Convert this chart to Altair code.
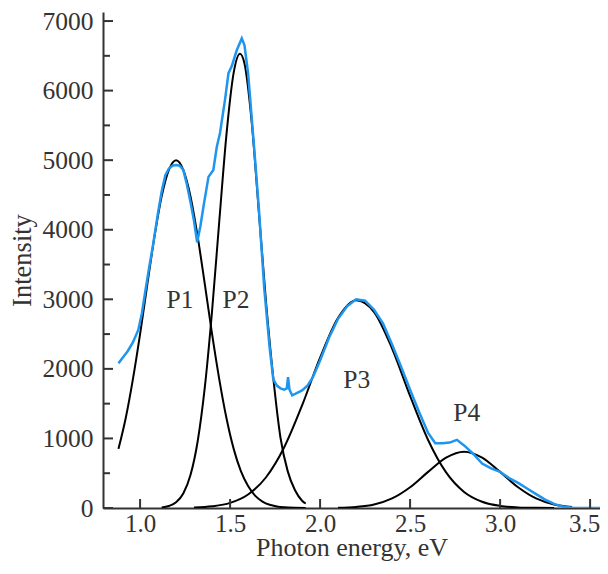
import altair as alt
import pandas as pd

# ---- measured spectrum (blue) ----
spec_E = [0.88, 0.90, 0.93, 0.96, 0.99, 1.01, 1.03, 1.05, 1.07, 1.10, 1.12, 1.14, 1.16, 1.18,
          1.20, 1.22, 1.24, 1.26, 1.28, 1.30, 1.317, 1.335, 1.352, 1.38, 1.407, 1.426, 1.444,
          1.472, 1.491, 1.509, 1.537, 1.565, 1.58, 1.60, 1.63, 1.66, 1.69, 1.72, 1.74, 1.76,
          1.78, 1.80, 1.815, 1.822, 1.83, 1.845, 1.87, 1.90, 1.93, 1.96, 2.00, 2.05, 2.10,
          2.15, 2.20, 2.25, 2.30, 2.35, 2.40, 2.45, 2.50, 2.55, 2.60, 2.64, 2.68, 2.72, 2.76,
          2.80, 2.85, 2.90, 2.95, 3.00, 3.05, 3.10, 3.15, 3.20, 3.25, 3.30, 3.35, 3.40, 3.50, 3.60]
spec_I = [2080, 2150, 2250, 2380, 2560, 2800, 3130, 3450, 3750, 4250, 4550, 4780, 4880, 4920,
          4930, 4920, 4860, 4650, 4400, 4120, 3820, 4050, 4330, 4760, 4860, 5190, 5390,
          5870, 6250, 6350, 6580, 6750, 6650, 6250, 5300, 4300, 3150, 2300, 1850, 1760,
          1720, 1700, 1720, 1880, 1700, 1620, 1650, 1690, 1760, 1880, 2120, 2450, 2720,
          2900, 3000, 2980, 2850, 2650, 2350, 2030, 1700, 1380, 1080, 930, 930, 940, 980,
          900, 780, 640, 570, 520, 430, 360, 280, 200, 120, 60, 20, 5, 0, 0]

# ---- fitted peaks (black) ----
p1_E = [0.88, 0.92, 0.96, 1.00, 1.04, 1.08, 1.12, 1.16, 1.20, 1.24, 1.28, 1.32, 1.36, 1.40,
        1.44, 1.48, 1.52, 1.56, 1.60, 1.64, 1.68, 1.72, 1.76, 1.80, 1.86, 1.92]
p1_I = [850, 1290, 1850, 2500, 3210, 3900, 4480, 4860, 5000, 4860, 4480, 3900, 3210, 2500,
        1850, 1290, 850, 530, 315, 175, 93, 46, 22, 10, 3, 1]

p2_E = [1.12, 1.16, 1.20, 1.24, 1.28, 1.32, 1.36, 1.40, 1.44, 1.48, 1.52, 1.555, 1.58, 1.62,
        1.66, 1.70, 1.74, 1.78, 1.82, 1.86, 1.90, 1.92]
p2_I = [9, 29, 82, 208, 473, 960, 1744, 2836, 4125, 5372, 6258, 6530, 6390, 5550,
        4250, 2950, 1870, 1010, 530, 258, 105, 64]

p3_E = [1.30, 1.40, 1.50, 1.60, 1.70, 1.80, 1.90, 2.00, 2.10, 2.20, 2.30, 2.40, 2.50, 2.60,
        2.70, 2.80, 2.90, 3.00, 3.10, 3.20, 3.30]
p3_I = [7, 24, 73, 194, 442, 869, 1475, 2162, 2735, 2988, 2817, 2293, 1611, 978,
        512, 231, 90, 30, 9, 2, 0]

p4_E = [2.10, 2.20, 2.30, 2.40, 2.50, 2.60, 2.70, 2.80, 2.90, 3.00, 3.10, 3.20, 3.30, 3.40]
p4_I = [3, 15, 50, 137, 298, 519, 725, 810, 725, 519, 298, 137, 50, 15]

peak_names = ["P1", "P2", "P3", "P4"]
label_E = [1.222, 1.533, 2.204, 2.815]
label_I = [2990, 2990, 1840, 1361]

x_ticks = [1.0, 1.5, 2.0, 2.5, 3.0, 3.5]
y_major = [0, 1000, 2000, 3000, 4000, 5000, 6000, 7000]
y_minor = [500, 1500, 2500, 3500, 4500, 5500, 6500]

# ---- tables ----
spec_df = pd.DataFrame({"E": spec_E, "I": spec_I})
fit_rows = []
for name, es, vs in zip(peak_names, [p1_E, p2_E, p3_E, p4_E], [p1_I, p2_I, p3_I, p4_I]):
    for e, v in zip(es, vs):
        fit_rows.append({"peak": name, "E": e, "I": v})
fit_df = pd.DataFrame(fit_rows)
lab_df = pd.DataFrame({"t": peak_names, "E": label_E, "I": label_I})
xt_df = pd.DataFrame({"E": x_ticks})
ymaj_df = pd.DataFrame({"I": y_major})
ymin_df = pd.DataFrame({"I": y_minor})

FONT = "Liberation Serif"
TXT = "#333333"
W, H = 497, 496

xs = alt.Scale(domain=[0.794, 3.555], nice=False, zero=False)
ys = alt.Scale(domain=[0, 7130], nice=False, zero=False)

x_axis = alt.Axis(values=x_ticks, format=".1f", title="Photon energy, eV", ticks=False, grid=False,
                  domainColor=TXT, domainWidth=2, labelFont=FONT, labelFontSize=25, labelColor=TXT,
                  labelPadding=3,
                  labelOffset={"condition": {"test": "datum.value == 3.5", "value": -6}, "value": 0},
                  titleFont=FONT, titleFontSize=26, titleFontWeight="normal",
                  titleColor=TXT, titlePadding=-2)
y_axis = alt.Axis(values=y_major, format="d", title="Intensity", ticks=False, grid=False,
                  domainColor=TXT, domainWidth=2, labelFont=FONT, labelFontSize=25.5, labelColor=TXT,
                  labelPadding=10, titleFont=FONT, titleFontSize=26.5, titleFontWeight="normal",
                  titleColor=TXT, titlePadding=6)

fits = alt.Chart(fit_df).mark_line(color="black", strokeWidth=2, interpolate="monotone", clip=True).encode(
    x=alt.X("E:Q", scale=xs, axis=x_axis),
    y=alt.Y("I:Q", scale=ys, axis=y_axis),
    detail="peak:N",
)

spec = alt.Chart(spec_df).mark_line(color="#1E96F0", strokeWidth=2.5, clip=True).encode(
    x=alt.X("E:Q", scale=xs),
    y=alt.Y("I:Q", scale=ys),
)

labels = alt.Chart(lab_df).mark_text(font=FONT, fontSize=25.5, color=TXT, align="center", baseline="middle").encode(
    x=alt.X("E:Q", scale=xs),
    y=alt.Y("I:Q", scale=ys),
    text="t:N",
)

xt = alt.Chart(xt_df).mark_rule(color=TXT, strokeWidth=2).encode(
    x=alt.X("E:Q", scale=xs), y=alt.value(H), y2=alt.value(H - 9)
)
ymaj = alt.Chart(ymaj_df).mark_rule(color=TXT, strokeWidth=2).encode(
    y=alt.Y("I:Q", scale=ys), x=alt.value(0), x2=alt.value(10)
)
ymin = alt.Chart(ymin_df).mark_rule(color=TXT, strokeWidth=2).encode(
    y=alt.Y("I:Q", scale=ys), x=alt.value(0), x2=alt.value(7)
)

chart = alt.layer(fits, spec, labels, xt, ymaj, ymin).properties(
    width=W, height=H,
    padding={"left": 95, "top": 4, "right": 0, "bottom": 53},
    autosize=alt.AutoSizeParams(type="none"),
    background="white",
).configure_view(stroke=None)

chart.save("out.html", embed_options={"renderer": "svg", "actions": False})
